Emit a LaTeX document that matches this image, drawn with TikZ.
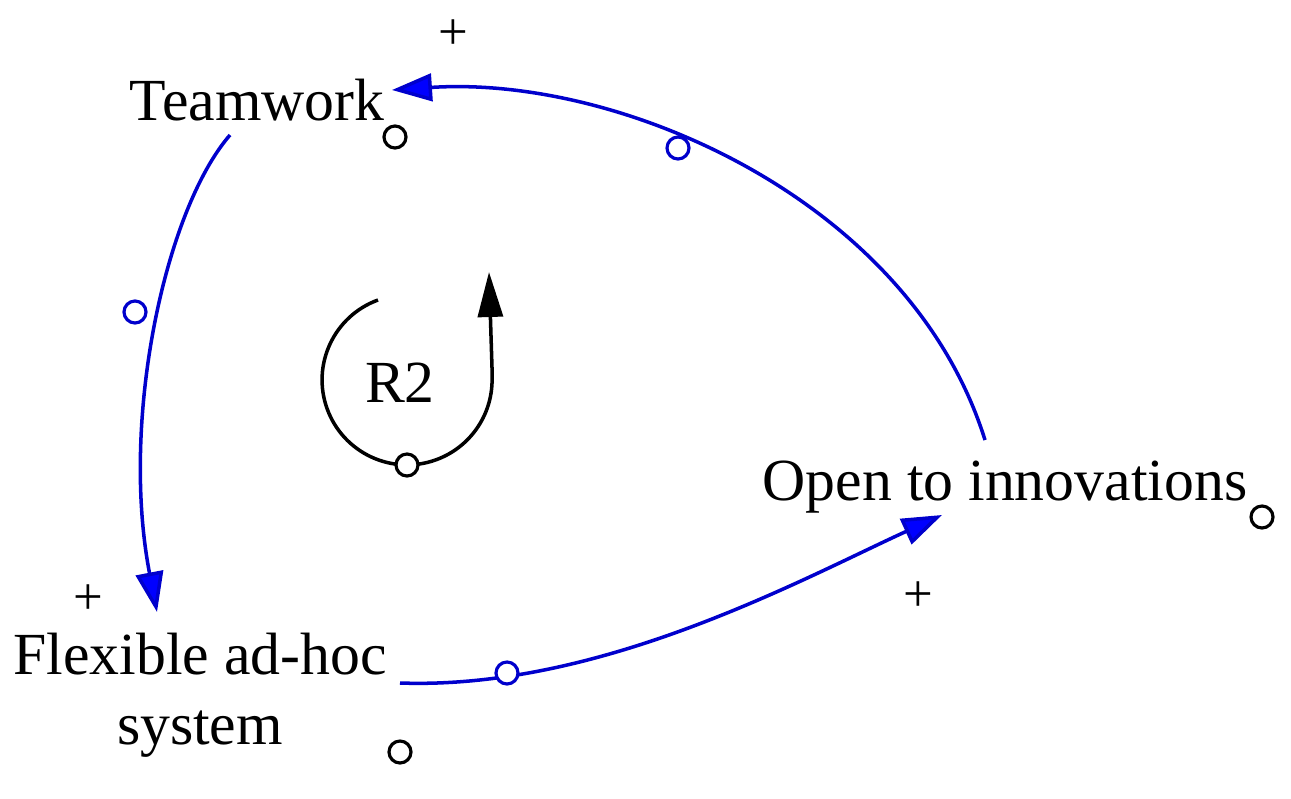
\documentclass[tikz,border=0pt]{standalone}
\usepackage{fontspec}
\setmainfont{Liberation Serif}
\usetikzlibrary{arrows.meta}
\begin{document}
\begin{tikzpicture}[x=0.02cm, y=-0.02cm,
    link/.style = {draw=blue!80!black, line width=2pt, -{Triangle[length=0.8cm, width=0.55cm, fill=blue]}},
    hole/.style = {draw, circle, line width=1.8pt, fill=white, minimum size=0.44cm, inner sep=0pt},
    blhole/.style = {hole, draw=blue!80!black},
    txt/.style = {font=\fontsize{34}{40}\selectfont, align=center},
    sign/.style = {font=\fontsize{30}{34}\selectfont}]
    \useasboundingbox (0,0) rectangle (1291,798);

    \node[txt] (team) at (257,100) {Teamwork};
    \node[txt] (flex) at (200,695) {Flexible ad-hoc\\system};
    \node[txt] (open) at (1005,487) {Open to innovations};

    \node[hole] (h1) at (395,137) {};
    \node[hole] (h2) at (400,752) {};
    \node[hole] (h3) at (1262,517) {};

    \coordinate (a1) at (985,440);
    \coordinate (a2) at (392,90);
    \coordinate (b1) at (230,135);
    \coordinate (b2) at (157,612);
    \coordinate (c1) at (400,683);
    \coordinate (c2) at (942,515);

    \draw[link] (a1) .. controls (910,200) and (620,75) .. (a2);
    \draw[link] (b1) .. controls (165,210) and (120,420) .. (b2);
    \draw[link] (c1) .. controls (600,690) and (800,580) .. (c2);

    \node[blhole] (h4) at (678,148) {};
    \node[blhole] (h5) at (135,312) {};
    \node[blhole] (h6) at (507,673) {};

    \node[sign] (p1) at (453,35) {+};
    \node[sign] (p2) at (88,600) {+};
    \node[sign] (p3) at (918,597) {+};

    % loop marker
    \coordinate (r0) at (378,300);
    \coordinate (r1) at (489,272);
    \draw[line width=2pt] (r0) arc[start angle=-110, end angle=-360, radius=85]
        -- ++(0,-10) coordinate (r2);
    \draw[line width=2pt, -{Triangle[length=0.9cm, width=0.5cm]}] (r2) -- (r1);
    \node[txt] (r2lbl) at (400,383) {R2};
    \node[hole] (h7) at (407,465) {};
\end{tikzpicture}
\end{document}
